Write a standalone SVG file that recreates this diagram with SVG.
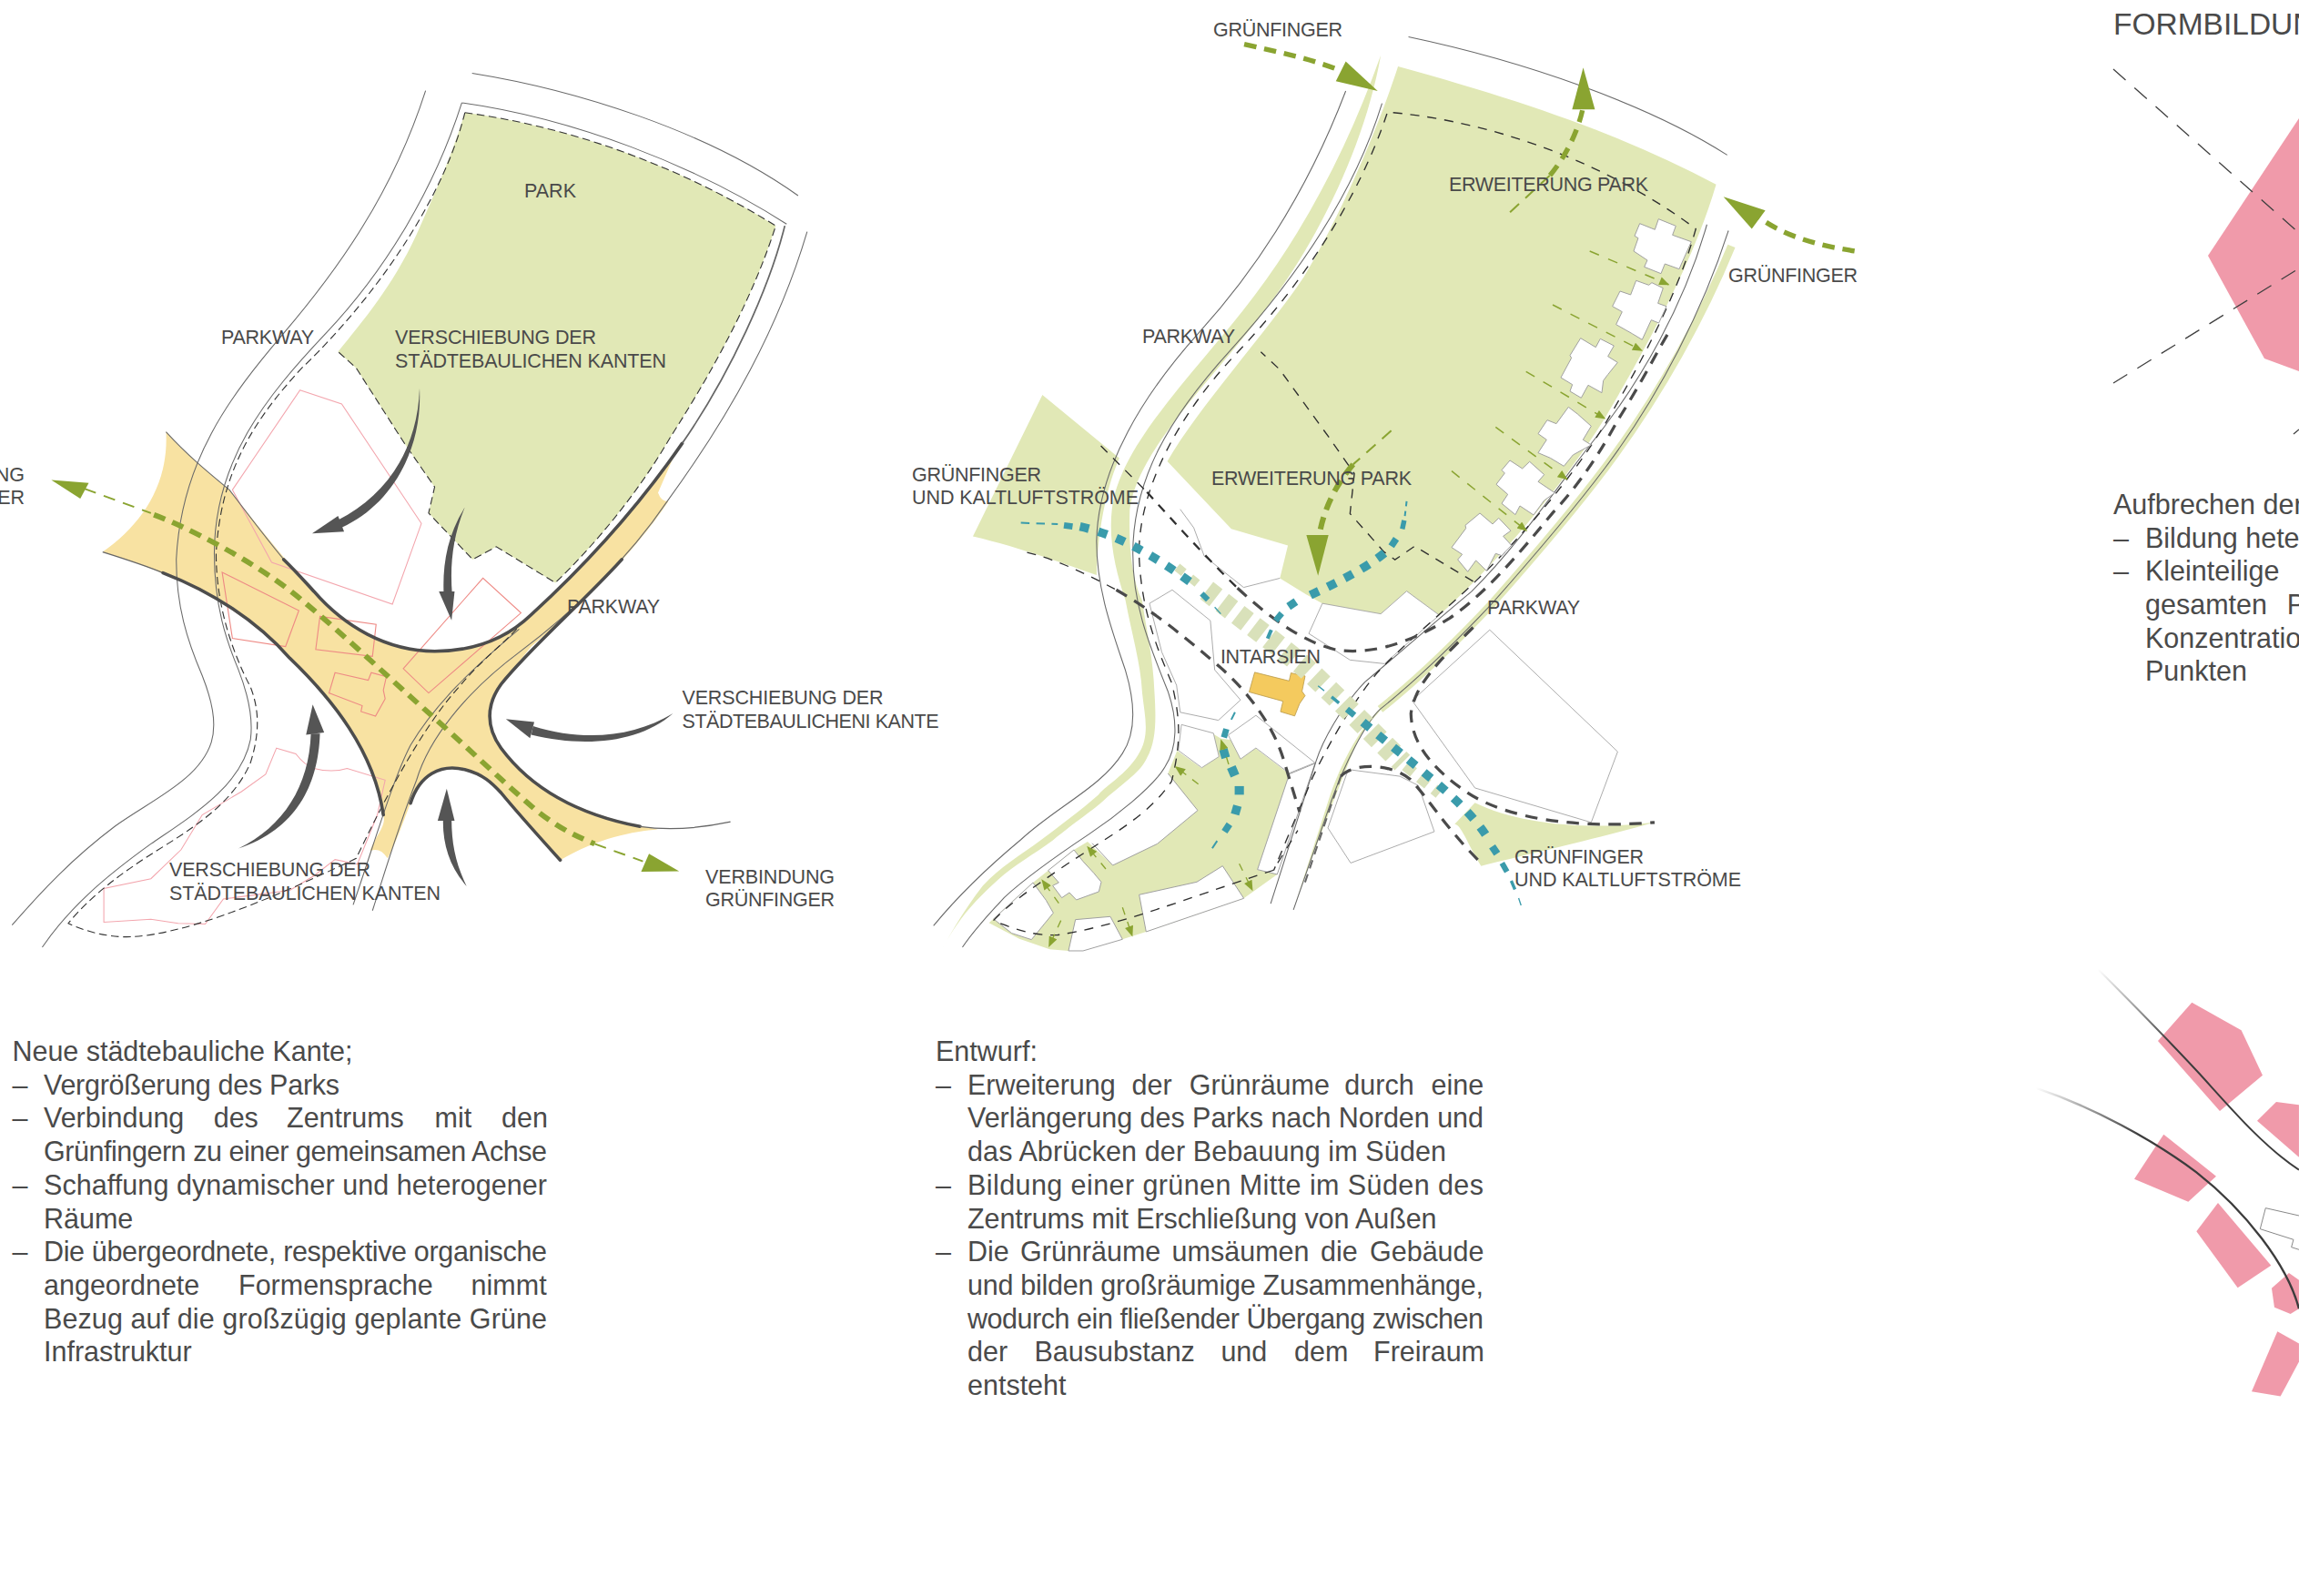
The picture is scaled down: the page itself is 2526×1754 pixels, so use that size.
<svg xmlns="http://www.w3.org/2000/svg" width="2526" height="1754" viewBox="0 0 2526 1754">
<style>
.lb{font-family:"Liberation Sans",Arial,sans-serif;font-size:21.5px;fill:#4a4a4a}
.bd{font-family:"Liberation Sans",Arial,sans-serif;font-size:30.5px;fill:#4a4a4a}
.ti{font-family:"Liberation Sans",Arial,sans-serif;font-size:33.5px;fill:#4a4a4a}
.n{fill:none}
.road{fill:none;stroke:#6a6a6a;stroke-width:1.6}
.dash{fill:none;stroke:#333;stroke-width:1.7;stroke-dasharray:13 7}
.dash2{fill:none;stroke:#2f2f2f;stroke-width:2;stroke-dasharray:15 13}
.dark{fill:none;stroke:#4d4d4d;stroke-width:5.5;stroke-linecap:round}
.ddash{fill:none;stroke:#4a4a4a;stroke-width:4.8;stroke-dasharray:20 14}
.pink{fill:none;stroke:#f3a5ad;stroke-width:1.6}
.red{fill:none;stroke:#ee8a85;stroke-width:1.7}
.arw{fill:#555}
.park{fill:#e1e8b6}
.yel{fill:#f8e2a2}
.grn{fill:#8aa431}
.gd1{fill:none;stroke:#8aa431;stroke-width:3;stroke-dasharray:20 14}
.gd2{fill:none;stroke:#8aa431;stroke-width:9;stroke-dasharray:20 13}
.gs{fill:none;stroke:#8aa431;stroke-width:1.5;stroke-dasharray:11 11;marker-end:url(#sm)}
.gs3{fill:none;stroke:#8aa431;stroke-width:4;stroke-dasharray:25 25;marker-end:url(#sm3)}
.tq{fill:none;stroke:#3a9bab}
.tl1{fill:none;stroke:#3a9bab;stroke-width:3;stroke-dasharray:14 11}
.tl2{fill:none;stroke:#3a9bab;stroke-width:14;stroke-dasharray:15 16}
.bar{fill:none;stroke:#d9e1ba}
.wb{fill:#fff;stroke:#a0a0a0;stroke-width:1.3}
.wb3{fill:#fff;stroke:#a0a0a0;stroke-width:3}
.wh{fill:#fff}
.pk{fill:#f09aaa}
.thin{fill:none;stroke:#3f3f3f;stroke-width:1.3;stroke-dasharray:18 13}
</style>
<defs>
<marker id="sm" viewBox="0 0 10 8" refX="9" refY="4" markerUnits="userSpaceOnUse" markerWidth="13" markerHeight="9" orient="auto"><path d="M0,0L10,4L0,8Z" fill="#8aa431"/></marker>
<marker id="sm3" viewBox="0 0 10 8" refX="9" refY="4" markerUnits="userSpaceOnUse" markerWidth="40" markerHeight="28" orient="auto"><path d="M0,0L10,4L0,8Z" fill="#8aa431"/></marker>
<linearGradient id="f1" gradientUnits="userSpaceOnUse" x1="315" y1="75" x2="560" y2="330"><stop offset="0" stop-color="#3c3c3c" stop-opacity="0"/><stop offset="1" stop-color="#3c3c3c"/></linearGradient>
<linearGradient id="f2" gradientUnits="userSpaceOnUse" x1="110" y1="467" x2="450" y2="620"><stop offset="0" stop-color="#3c3c3c" stop-opacity="0"/><stop offset="1" stop-color="#3c3c3c"/></linearGradient>
</defs>
<rect width="2526" height="1754" fill="#fff"/>

<g id="map-1" transform="translate(0,60) scale(0.6633,0.6378)">
<path id="m1-yellow" class="yel" d="M275,650C310,690 345,720 380,750C440,830 480,880 520,925C570,985 640,1028 720,1028C790,1028 840,1005 880,965C960,890 1040,800 1115,695L1090,755Q1095,770 1107,770C1050,860 960,950 880,1020L830,1085C805,1120 805,1160 830,1195C880,1265 960,1310 1090,1335C1050,1338 990,1350 928,1388C895,1350 860,1310 830,1272C815,1255 800,1240 770,1232C730,1222 695,1240 680,1290C665,1330 655,1360 642,1385Q630,1365 613,1372C625,1340 640,1330 635,1310C620,1200 550,1110 480,1040C400,950 290,895 170,857C235,810 280,740 275,650Z"/>
<path id="m1-park" class="park" d="M770,100C950,125 1130,195 1285,295C1250,410 1190,530 1110,660C1060,750 990,840 920,910L822,848L783,870L710,790L720,745L670,670L590,540L560,512C600,460 650,400 690,310C720,240 750,170 770,100Z"/>
<g id="m1-buildings">
<polygon class="pink" points="497,578 566,602 698,808 650,947 450,875 385,750"/>
<polygon class="red" points="368,892 495,958 473,1020 385,1006"/>
<polygon class="red" points="530,968 623,982 617,1037 523,1025"/>
<polygon class="red" points="668,1058 800,902 863,962 710,1100"/>
<polygon class="red" points="555,1065 610,1078 615,1065 640,1072 635,1095 638,1110 622,1140 598,1132 600,1122 545,1100"/>
<path class="pink" d="M458,1195L490,1205Q505,1225 520,1230Q550,1238 575,1230L638,1250L625,1310L592,1395L555,1387L520,1415L480,1440L370,1455L340,1498L295,1497L250,1490L172,1495L172,1437L250,1420L300,1370L335,1310L400,1270L440,1240Z"/>
</g>
<g id="m1-roads">
<path class="road" d="M705,62C650,240 560,370 470,480C380,590 300,700 292,870C292,950 310,1010 335,1070C350,1110 360,1150 350,1185C330,1250 250,1285 190,1330C120,1385 70,1440 20,1500"/>
<path class="road" d="M765,83C720,230 640,370 540,480C440,590 355,700 355,860C355,950 375,1010 395,1060C410,1100 420,1140 415,1180C400,1260 320,1310 250,1360C170,1420 115,1470 70,1538"/>
<path class="road" d="M765,83C950,110 1150,190 1303,292"/>
<path class="road" d="M782,32C950,60 1170,130 1322,243"/>
<path class="road" d="M860,990C780,1060 720,1120 680,1190C650,1250 620,1360 585,1465"/>
<path class="road" d="M1337,305C1290,470 1210,620 1105,770C1040,870 950,960 860,1030C770,1100 710,1180 690,1250C660,1330 640,1400 617,1475"/>
<path class="road" d="M275,650C310,690 345,720 380,750C420,805 450,845 470,870"/>
<path class="dash" d="M770,100C950,125 1130,195 1285,295C1250,410 1190,530 1110,660C1060,750 990,840 920,910L822,848L783,870L710,790L720,745L670,670L590,540L560,512"/>
<path class="dash" d="M770,100C740,230 640,400 500,540C420,630 365,720 358,860C358,950 385,1030 415,1090C430,1130 430,1170 415,1220C390,1280 340,1320 270,1365C200,1410 150,1450 113,1497C150,1515 190,1522 220,1520C300,1515 420,1470 590,1385C620,1320 690,1170 760,1090C800,1040 830,1020 860,985"/>
</g>
<g id="m1-edges">
<path class="dark" d="M470,870C490,890 505,908 520,925C570,985 640,1028 720,1028C790,1028 840,1005 880,965C980,870 1060,775 1130,670"/>
<path class="n" stroke="#666" stroke-width="2.6" d="M1130,670C1210,550 1275,400 1300,295"/>
<path class="n" stroke="#666" stroke-width="2" d="M170,857C210,870 240,880 270,893"/>
<path class="dark" d="M270,893C350,925 425,975 480,1040C550,1110 620,1200 635,1310"/>
<path class="dark" d="M1030,870C960,950 880,1020 830,1085C805,1120 805,1160 830,1195C880,1265 960,1310 1060,1330"/>
<path class="n" stroke="#666" stroke-width="2" d="M1060,1330C1110,1338 1160,1333 1210,1322"/>
<path class="dark" d="M680,1290C695,1240 730,1222 770,1232C800,1240 815,1255 830,1272C860,1310 895,1350 928,1388"/>
</g>
<g id="m1-shift-arrows">
<path class="arw" d="M695,575C692,680 640,760 560,802L566,815C650,775 700,680 695,575Z"/><polygon class="arw" points="517,825 560,795 570,822"/>
<path class="arw" d="M770,780C740,830 733,880 735,930L749,930C745,880 750,830 770,780Z"/><polygon class="arw" points="748,975 727,925 753,925"/>
<path class="arw" d="M1115,1135C1050,1175 970,1185 883,1157L880,1172C970,1195 1060,1185 1115,1135Z"/><polygon class="arw" points="838,1145 885,1150 878,1178"/>
<path class="arw" d="M395,1368C470,1330 512,1260 515,1170L530,1170C527,1260 490,1335 395,1368Z"/><polygon class="arw" points="518,1120 507,1172 537,1168"/>
<path class="arw" d="M773,1433C745,1400 733,1360 734,1318L748,1318C748,1360 755,1395 773,1433Z"/><polygon class="arw" points="740,1265 725,1320 753,1320"/>
</g>
<g id="m1-axis">
<path class="gd1" d="M140,748L250,790"/>
<path class="gd2" d="M255,793C300,810 420,870 500,940C570,1000 640,1070 700,1125C760,1180 830,1250 880,1295C920,1330 950,1345 985,1360"/>
<path class="gd1" d="M985,1360L1065,1390"/>
<polygon class="grn" points="85,733 147,738 133,765"/>
<polygon class="grn" points="1125,1407 1075,1377 1062,1408"/>
</g>
</g>

<g id="m2-south-green" transform="translate(1020,760) scale(0.3333)">
<polygon class="park" points="200,763 345,630 395,590 480,522 525,495 608,573 755,502 888,392 790,270 820,195 900,252 955,212 940,140 965,155 1000,160 1030,222 1078,187 1190,272 1085,587 1150,603 1040,682 718,792 640,817 462,855 400,850 300,815"/>
<path class="n" stroke="#a0a0a0" stroke-width="3" d="M790,270L888,392L755,502L608,573L540,500"/>
<polygon class="wb3" points="345,630 388,688 412,730 340,818 275,797 215,750"/>
<polygon class="wb3" points="395,590 480,522 510,560 545,598 570,628 562,660 488,687 465,663 440,680 410,640 430,630"/>
<polygon class="wb3" points="695,670 885,628 970,575 1040,682 718,792"/>
<polygon class="wb3" points="485,752 600,742 640,817 510,855 462,855"/>
<polygon class="wb3" points="1190,272 1275,237 1150,603 1085,587"/>
</g>

<g id="map-2" transform="translate(1000,0) scale(0.676)">
<path id="m2-park" class="park" d="M793,108C1000,165 1160,220 1310,300C1275,420 1200,560 1129,680C1060,790 960,910 860,1000L807,961L765,998L670,981L643,966L601,940L614,887L522,860L418,750C470,660 580,540 640,450C700,350 760,210 793,108Z"/>
<path id="m2-west" class="park" d="M215,642L340,745C320,790 305,860 303,935C260,920 180,890 102,872Z"/>
<path id="m2-strip-l" class="park" d="M765,90C715,230 650,360 560,480C470,600 340,720 328,828C322,880 335,930 350,976C360,1030 375,1080 377,1124C380,1160 392,1195 370,1228C350,1260 320,1275 306,1292C280,1315 240,1345 212,1366C180,1390 145,1410 118,1440C95,1470 75,1500 54,1540C80,1490 110,1460 143,1430C170,1405 200,1390 232,1366C270,1335 300,1315 315,1301C350,1270 375,1255 385,1232C400,1205 400,1170 397,1124C395,1070 385,1030 377,976C360,940 355,890 357,828C370,730 490,620 580,500C670,380 740,230 765,90Z"/>
<path id="m2-strip-r" class="n" stroke="#e1e8b6" stroke-width="13" d="M1335,400C1290,510 1220,640 1130,760C1070,840 1000,920 946,981C900,1030 830,1100 764,1153"/>
<path id="m2-strip-r2" class="park" d="M770,1147C735,1175 700,1240 680,1301L623,1479C650,1400 700,1270 725,1210C735,1190 750,1170 760,1160Z"/>
<path id="m2-se" class="park" d="M918,1305C990,1340 1100,1350 1210,1337C1110,1365 1000,1390 928,1408C905,1370 895,1340 885,1340Z"/>
<g id="m2-buildings">
<polyline class="n" stroke="#a0a0a0" stroke-width="1.3" points="439,828 461,858 478,904 542,955 601,940"/>
<polygon class="wb" points="389,981 426,959 488,1009 495,1089 537,1138 501,1171 439,1158 433,1114 409,1060"/>
<polygon class="wb" points="441,1178 493,1192 502,1230 474,1248 436,1220"/>
<polygon class="wb" points="517,1195 562,1163 658,1240 616,1257 562,1216 537,1234"/>
<polygon class="wb" points="670,981 765,998 807,961 860,1000 771,1079 715,1073 648,1030"/>
<polygon class="wb" points="942,1024 1150,1222 1107,1337 918,1281 816,1139"/>
<polygon class="wb" points="712,1251 796,1262 826,1277 852,1352 716,1403 679,1346"/>
<polygon fill="#f4ca5e" stroke="#b89a4a" stroke-width="1.2" points="560,1093 616,1107 619,1094 642,1099 637,1124 642,1131 633,1144 625,1164 602,1157 606,1140 551,1125"/>
</g>
<g id="m2-roads">
<path class="road" d="M708,148C650,300 570,430 470,540C380,640 305,760 303,880C303,960 330,1030 350,1090C365,1140 368,1190 345,1225C310,1280 240,1310 180,1365C120,1415 75,1460 38,1505"/>
<path class="road" d="M767,168C720,320 620,460 520,570C420,680 362,780 362,900C362,980 385,1040 419,1124C435,1170 435,1215 414,1247C395,1280 330,1330 291,1356C240,1390 190,1425 153,1459C125,1490 105,1510 85,1540"/>
<path class="road" d="M810,60C1000,100 1200,170 1328,252"/>
<path class="road" d="M1295,365C1260,490 1190,620 1100,730C1050,795 985,890 912,962C860,1005 780,1075 739,1109C700,1150 670,1205 660,1237L586,1469"/>
<path class="road" d="M1330,375C1290,500 1220,640 1130,760C1070,840 1000,920 946,981C900,1030 830,1100 764,1153C740,1175 705,1245 685,1301L623,1479"/>
<path class="dash2" d="M775,185C730,320 640,460 530,575C440,670 372,790 372,900C375,990 400,1050 425,1110C440,1170 440,1210 425,1270C385,1330 320,1360 240,1415C190,1450 160,1470 135,1497C170,1510 200,1522 240,1520C340,1505 450,1460 590,1415L630,1350"/>
<path class="dash2" d="M785,183C960,200 1140,270 1277,372C1250,470 1200,570 1129,690C1080,770 1000,870 902,961C860,1000 800,1050 759,1094C720,1140 680,1210 655,1262L591,1415"/>
<path class="dash2" d="M915,945L820,888L788,910L770,897L715,835L722,770L680,710L600,600L570,572"/>
<path class="dash2" d="M310,725L385,800"/>
<path class="dash2" style="stroke-width:3.4" d="M385,800C430,850 480,905 532,956"/>
<path class="ddash" d="M532,956C585,1005 640,1045 695,1057C760,1065 820,1040 877,1005C935,965 990,900 1045,833C1090,785 1125,730 1149,685C1190,620 1215,570 1232,542"/>
<path class="dash2" d="M190,898C240,910 290,935 335,959"/>
<path class="ddash" d="M335,959C390,990 440,1030 503,1084C550,1125 590,1180 606,1232L633,1320"/>
<path class="ddash" d="M915,1020C870,1065 820,1110 814,1160C815,1210 850,1250 902,1286C950,1320 1050,1350 1210,1337"/>
<path class="ddash" d="M700,1262C720,1240 780,1240 813,1267C840,1295 870,1345 925,1400"/>
<path class="n" stroke="#666" stroke-width="3" stroke-dasharray="14 10" d="M700,1262L640,1440"/>
</g>
<g id="m2-flows">
<path class="bar" stroke-width="14" stroke-dasharray="14 14" d="M434,922L476,956"/>
<path class="bar" stroke-width="35" stroke-dasharray="19 13" d="M482,960C540,1005 600,1050 641,1084C690,1130 750,1190 800,1240"/>
<path class="bar" stroke-width="18" stroke-dasharray="17 13" d="M805,1245L860,1290"/>
<path class="tl1" d="M180,850L240,852"/>
<path class="tq" stroke-width="10" d="M250,854L264,856"/>
<path class="tl2" d="M276,856C340,870 400,905 463,952"/>
<path class="tq" stroke-width="9" d="M474,965L484,975"/>
<path class="tq" stroke-width="2" d="M495,987L505,998"/>
<path class="tq" stroke-width="2" d="M663,1115L673,1123"/>
<path class="tq" stroke-width="5" d="M685,1133L697,1143"/>
<path class="tq" stroke-width="10" d="M710,1153L722,1163"/>
<path class="tl2" style="stroke-dasharray:15 17" d="M736,1174C790,1220 850,1265 891,1305C908,1322 925,1340 938,1361"/>
<path class="tq" stroke-width="12" d="M946,1376L954,1388"/>
<path class="tq" stroke-width="9" d="M962,1403L970,1417"/>
<path class="tq" stroke-width="5" d="M977,1432L983,1446"/>
<path class="tq" stroke-width="2" d="M989,1460L993,1472"/>
<path class="tq" stroke-width="3" stroke-dasharray="8 8" d="M807,815L804,840"/>
<path class="tq" stroke-width="8" d="M803,846L800,860"/>
<path class="tq" stroke-width="11" d="M790,876L782,888"/>
<path class="tl2" d="M771,899C745,920 710,940 645,970"/>
<path class="tq" stroke-width="13" d="M627,978L615,986"/>
<path class="tq" stroke-width="10" d="M604,997L594,1009"/>
<path class="tq" stroke-width="6" d="M587,1024L581,1038"/>
<path class="tq" stroke-width="3" d="M528,1158L522,1170"/>
<path class="tq" stroke-width="10" d="M514,1185L510,1199"/>
<path class="tq" stroke-width="14" d="M509,1218L513,1232"/>
<path class="tq" stroke-width="15" d="M522,1247L528,1261"/>
<path class="tq" stroke-width="15" d="M535,1278L535,1292"/>
<path class="tq" stroke-width="14" d="M532,1310L528,1324"/>
<path class="tq" stroke-width="11" d="M519,1340L511,1352"/>
<path class="tq" stroke-width="3" d="M499,1367L491,1379"/>
<path class="gd2" style="stroke-width:8" d="M543,72C600,85 650,95 700,115"/>
<polygon class="grn" points="760,148 708,100 692,132"/>
<path class="gd1" d="M975,345L1040,285"/>
<path class="gd2" style="stroke-width:8" d="M1040,285C1065,255 1085,215 1093,178"/>
<polygon class="grn" points="1094,110 1076,178 1113,178"/>
<path class="gd2" style="stroke-width:8" d="M1535,408C1480,400 1420,385 1375,350"/>
<polygon class="grn" points="1322,320 1390,342 1368,372"/>
<path class="gd1" d="M782,700L720,755"/>
<path class="gd2" d="M720,755C690,790 672,830 665,870"/>
<polygon class="grn" points="663,936 644,870 680,870"/>
</g>
</g>

<g id="m2-south-arrows" transform="translate(1020,760) scale(0.3333)">
<path class="gs3" d="M890,305L815,248"/>
<path class="gs3" d="M585,585L525,512"/>
<path class="gs3" d="M430,698L375,622"/>
<path class="gs3" d="M437,755L398,840"/>
<path class="gs3" d="M640,712L672,805"/>
<path class="gs3" d="M1025,568L1068,655"/>
<path class="gs3" d="M990,240L965,160"/>
</g>

<g id="m2-houses" transform="translate(1500,200) scale(0.3333)">
<polygon class="wb3" points="967,122 1024,145 1013,175 1075,197 1035,287 988,270 975,302 920,280 930,258 885,228 900,185 888,178 905,137 955,157"/>
<polygon class="wb3" points="893,325 935,340 945,332 982,350 965,400 993,410 968,465 943,455 913,520 880,500 827,470 847,428 815,410 840,360 875,372"/>
<polygon class="wb3" points="710,515 760,545 775,517 820,540 800,575 832,595 800,635 785,655 780,695 735,670 712,712 675,690 683,668 645,645 680,580 675,572"/>
<polygon class="wb3" points="670,742 700,765 745,805 718,850 745,867 685,900 655,937 610,910 570,893 598,850 570,830 600,785 630,797"/>
<polygon class="wb3" points="477,918 518,945 542,922 590,965 570,988 625,1025 590,1050 555,1098 510,1068 495,1097 450,1060 470,1030 432,997 460,960 450,950"/>
<polygon class="wb3" points="378,1092 420,1128 440,1108 480,1150 455,1168 482,1198 450,1232 430,1225 400,1282 365,1248 338,1285 305,1245 320,1228 285,1205 332,1142 330,1132"/>
</g>
<g id="m2-house-arrows">
<path class="gs" d="M1746.7,276L1833.3,312.7"/>
<path class="gs" d="M1706,335L1804,385.3"/>
<path class="gs" d="M1676.7,408.3L1763.3,460"/>
<path class="gs" d="M1643.3,469.3L1721.7,526.7"/>
<path class="gs" d="M1595,517.7L1677.3,583.3"/>
</g>

<g id="map-3-top">
<polygon class="pk" points="2526,130 2426,281 2488,394 2526,408"/>
<path class="thin" d="M2322,76L2526,256"/>
<path class="thin" d="M2322,421L2526,295"/>
<path class="thin" d="M2520,477L2526,472"/>
</g>

<g id="map-3-bottom" transform="translate(2200,1040) scale(0.3333)">
<polygon class="pk" points="625,185 788,277 858,425 717,543 513,312"/>
<polygon class="pk" points="903,513 978,523 978,695 840,575"/>
<polygon class="pk" points="532,620 705,758 613,842 435,767"/>
<polygon class="pk" points="711,846 886,1052 776,1126 640,940"/>
<polygon class="pk" points="945,1077 978,1100 978,1195 950,1212 897,1190 888,1127"/>
<polygon class="pk" points="907,1270 978,1310 978,1370 917,1484 822,1468"/>
<path class="n" stroke="url(#f1)" stroke-width="6" d="M315,75C400,160 520,280 650,420C750,530 860,660 978,737"/>
<path class="n" stroke="url(#f2)" stroke-width="7" d="M110,467C300,530 500,640 640,745C800,870 940,1050 978,1195"/>
<path class="n" stroke="#888" stroke-width="3" d="M978,888L868,863L850,932L960,967L953,992L978,1000"/>
</g>

<g id="labels-1">
<text class="lb" x="576" y="217" textLength="57">PARK</text>
<text class="lb" x="243" y="378" textLength="102">PARKWAY</text>
<text class="lb" x="434" y="378" textLength="221">VERSCHIEBUNG DER</text>
<text class="lb" x="434" y="404" textLength="298">STÄDTEBAULICHEN KANTEN</text>
<text class="lb" x="27" y="529" text-anchor="end">NG</text>
<text class="lb" x="27" y="554" text-anchor="end">ER</text>
<text class="lb" x="623" y="674" textLength="102">PARKWAY</text>
<text class="lb" x="749.5" y="774" textLength="221">VERSCHIEBUNG DER</text>
<text class="lb" x="749.5" y="800" textLength="282">STÄDTEBAULICHENI KANTE</text>
<text class="lb" x="775" y="971" textLength="142">VERBINDUNG</text>
<text class="lb" x="775" y="996" textLength="142">GRÜNFINGER</text>
<text class="lb" x="186" y="963" textLength="221">VERSCHIEBUNG DER</text>
<text class="lb" x="186" y="989" textLength="298">STÄDTEBAULICHEN KANTEN</text>
</g>
<g id="labels-2">
<text class="lb" x="1333" y="40" textLength="142">GRÜNFINGER</text>
<text class="lb" x="1592" y="210" textLength="219">ERWEITERUNG PARK</text>
<text class="lb" x="1899" y="310" textLength="142">GRÜNFINGER</text>
<text class="lb" x="1255" y="377" textLength="102">PARKWAY</text>
<text class="lb" x="1002" y="529" textLength="142">GRÜNFINGER</text>
<text class="lb" x="1002" y="554" textLength="249">UND KALTLUFTSTRÖME</text>
<text class="lb" x="1331" y="533" textLength="220">ERWEITERUNG PARK</text>
<text class="lb" x="1634" y="675" textLength="102">PARKWAY</text>
<text class="lb" x="1341" y="729" textLength="110">INTARSIEN</text>
<text class="lb" x="1664" y="949" textLength="142">GRÜNFINGER</text>
<text class="lb" x="1664" y="974" textLength="249">UND KALTLUFTSTRÖME</text>
</g>
<g id="text-1">
<text class="bd" x="13.5" y="1166" textLength="374">Neue städtebauliche Kante;</text>
<text class="bd" x="13.5" y="1202.7">–</text><text class="bd" x="48" y="1202.7" textLength="325">Vergrößerung des Parks</text>
<text class="bd" x="13.5" y="1239.4">–</text><text class="bd" y="1239.4"><tspan x="48">Verbindung</tspan> <tspan x="234.7">des</tspan> <tspan x="315">Zentrums</tspan> <tspan x="477.6">mit</tspan> <tspan x="551">den</tspan></text>
<text class="bd" x="48" y="1276.1" textLength="553">Grünfingern zu einer gemeinsamen Achse</text>
<text class="bd" x="13.5" y="1312.8">–</text><text class="bd" x="48" y="1312.8" textLength="553">Schaffung dynamischer und heterogener</text>
<text class="bd" x="48" y="1349.5">Räume</text>
<text class="bd" x="13.5" y="1386.2">–</text><text class="bd" x="48" y="1386.2" textLength="553">Die übergeordnete, respektive organische</text>
<text class="bd" y="1422.9"><tspan x="48">angeordnete</tspan> <tspan x="262">Formensprache</tspan> <tspan x="517.6">nimmt</tspan></text>
<text class="bd" x="48" y="1459.6" textLength="553">Bezug auf die großzügig geplante Grüne</text>
<text class="bd" x="48" y="1496.3">Infrastruktur</text>
</g>
<g id="text-2">
<text class="bd" x="1028" y="1166">Entwurf:</text>
<text class="bd" x="1028" y="1202.7">–</text><text class="bd" y="1202.7"><tspan x="1063">Erweiterung</tspan> <tspan x="1243.5">der</tspan> <tspan x="1306.7">Grünräume</tspan> <tspan x="1477.3">durch</tspan> <tspan x="1572.5">eine</tspan></text>
<text class="bd" x="1063" y="1239.4" textLength="567">Verlängerung des Parks nach Norden und</text>
<text class="bd" x="1063" y="1276.1" textLength="526">das Abrücken der Bebauung im Süden</text>
<text class="bd" x="1028" y="1312.8">–</text><text class="bd" x="1063" y="1312.8" textLength="567">Bildung einer grünen Mitte im Süden des</text>
<text class="bd" x="1063" y="1349.5" textLength="515.5">Zentrums mit Erschließung von Außen</text>
<text class="bd" x="1028" y="1386.2">–</text><text class="bd" y="1386.2"><tspan x="1063">Die</tspan> <tspan x="1121">Grünräume</tspan> <tspan x="1287.6">umsäumen</tspan> <tspan x="1451">die</tspan> <tspan x="1505">Gebäude</tspan></text>
<text class="bd" x="1063" y="1422.9" textLength="567">und bilden großräumige Zusammenhänge,</text>
<text class="bd" x="1063" y="1459.6" textLength="567">wodurch ein fließender Übergang zwischen</text>
<text class="bd" y="1496.3"><tspan x="1063">der</tspan> <tspan x="1136.5">Bausubstanz</tspan> <tspan x="1341.4">und</tspan> <tspan x="1422">dem</tspan> <tspan x="1509">Freiraum</tspan></text>
<text class="bd" x="1063" y="1533">entsteht</text>
</g>
<g id="text-3">
<text class="ti" x="2322" y="38">FORMBILDUN</text>
<text class="bd" x="2322" y="565">Aufbrechen der</text>
<text class="bd" x="2322" y="602">–</text><text class="bd" x="2357" y="602">Bildung hete</text>
<text class="bd" x="2322" y="638">–</text><text class="bd" x="2357" y="638">Kleinteilige</text>
<text class="bd" y="675"><tspan x="2357">gesamten</tspan> <tspan x="2512.7">P</tspan></text>
<text class="bd" x="2357" y="712">Konzentratio</text>
<text class="bd" x="2357" y="748">Punkten</text>
</g>
</svg>
